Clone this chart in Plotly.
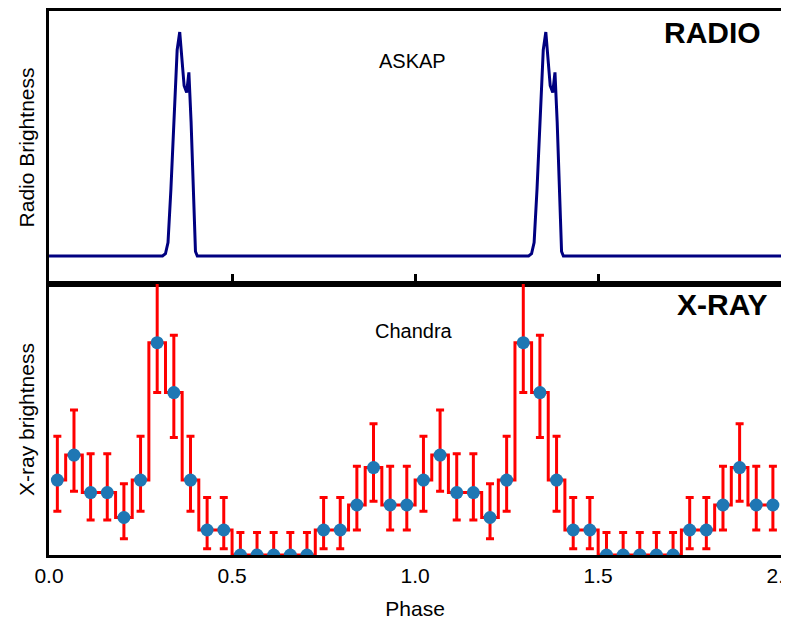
import plotly.graph_objects as go
from plotly.subplots import make_subplots

radio_phase = [0.0, 0.31, 0.318, 0.325, 0.333, 0.342, 0.35, 0.357, 0.363, 0.369, 0.376, 0.382, 0.388, 0.395, 0.40, 0.405, 1.0]
radio_value = [0.0, 0.0, 0.01, 0.06, 0.3, 0.65, 0.92, 1.0, 0.86, 0.76, 0.73, 0.82, 0.6, 0.25, 0.02, 0.0, 0.0]

xray_counts = [6, 8, 5, 5, 3, 6, 17, 13, 6, 2, 2, 0, 0, 0, 0, 0, 2, 2, 4, 7, 4, 4]
xray_err_up = [3.5, 3.6, 3.1, 3.1, 2.7, 3.5, 5.0, 4.6, 3.5, 2.6, 2.6, 1.8, 1.8, 1.8, 1.8, 1.8, 2.6, 2.6, 3.1, 3.5, 3.1, 3.1]
xray_err_dn = [2.5, 2.9, 2.2, 2.2, 1.7, 2.5, 4.0, 3.6, 2.5, 1.5, 1.5, 0.0, 0.0, 0.0, 0.0, 0.0, 1.5, 1.5, 2.0, 2.7, 2.0, 2.0]

def profile_plot():
    nbins = len(xray_counts)
    centers = [(i + 0.5) / nbins for i in range(nbins)]
    phase = centers + [c + 1 for c in centers]  # two cycles
    counts = xray_counts * 2
    rphase = radio_phase + [p + 1 for p in radio_phase]
    rvalue = radio_value * 2

    fig = make_subplots(rows=2, cols=1, shared_xaxes=True, vertical_spacing=0)
    fig.add_trace(
        go.Scatter(x=rphase, y=rvalue, mode="lines", line=dict(color="#000080", width=3), showlegend=False),
        row=1, col=1
    )
    fig.add_trace(
        go.Scatter(x=phase, y=counts, mode="lines", line=dict(color="red", width=3, shape="hvh"),
                   error_y=dict(type="data", symmetric=False, array=xray_err_up * 2, arrayminus=xray_err_dn * 2,
                                color="red", thickness=3, width=4),
                   showlegend=False),
        row=2, col=1
    )
    fig.add_trace(
        go.Scatter(x=phase, y=counts, mode="markers", marker_color="#1f77b4", marker_size=13, showlegend=False),
        row=2, col=1
    )

    axis = dict(showline=True, linecolor="black", linewidth=3, mirror=True, showgrid=False, zeroline=False, automargin=False)
    fig.update_xaxes(range=[0, 2], ticks="inside", ticklen=10, tickwidth=3, tickcolor="black",
                     tickvals=[0.5, 1.0, 1.5], showticklabels=False, **axis, row=1, col=1)
    fig.update_xaxes(range=[0, 2], ticks="", tickvals=[0, 0.5, 1.0, 1.5, 2.0], ticktext=["0.0", "0.5", "1.0", "1.5", "2.0"],
                     tickfont=dict(size=21), title=dict(text="Phase", font=dict(size=21), standoff=16), **axis, row=2, col=1)
    fig.update_yaxes(range=[-0.125, 1.094], showticklabels=False, ticks="",
                     title=dict(text="Radio Brightness", font=dict(size=21), standoff=6), **axis, row=1, col=1)
    fig.update_yaxes(range=[0, 21.7], showticklabels=False, ticks="",
                     title=dict(text="X-ray brightness", font=dict(size=21), standoff=6), **axis, row=2, col=1)

    fig.update_layout(
        width=789, height=621, margin=dict(l=0, r=0, t=0, b=0),
        plot_bgcolor="white", paper_bgcolor="white",
        font=dict(family="Liberation Sans, Arial", color="black"),
        xaxis=dict(domain=[0.052, 0.980]), xaxis2=dict(domain=[0.052, 0.980]),
        yaxis=dict(domain=[0.5556, 0.9952]), yaxis2=dict(domain=[0.1192, 0.5556]),
    )
    fig.add_annotation(x=0.893, y=0.99, xref="paper", yref="paper", text="<b>RADIO</b>", showarrow=False,
                       xanchor="center", yanchor="top", font=dict(size=30))
    fig.add_annotation(x=0.513, y=0.935, xref="paper", yref="paper", text="ASKAP", showarrow=False, font=dict(size=20))
    fig.add_annotation(x=0.905, y=0.553, xref="paper", yref="paper", text="<b>X-RAY</b>", showarrow=False,
                       xanchor="center", yanchor="top", font=dict(size=30))
    fig.add_annotation(x=0.515, y=0.48, xref="paper", yref="paper", text="Chandra", showarrow=False, font=dict(size=20))

    fig.write_html("out.html")

profile_plot()
